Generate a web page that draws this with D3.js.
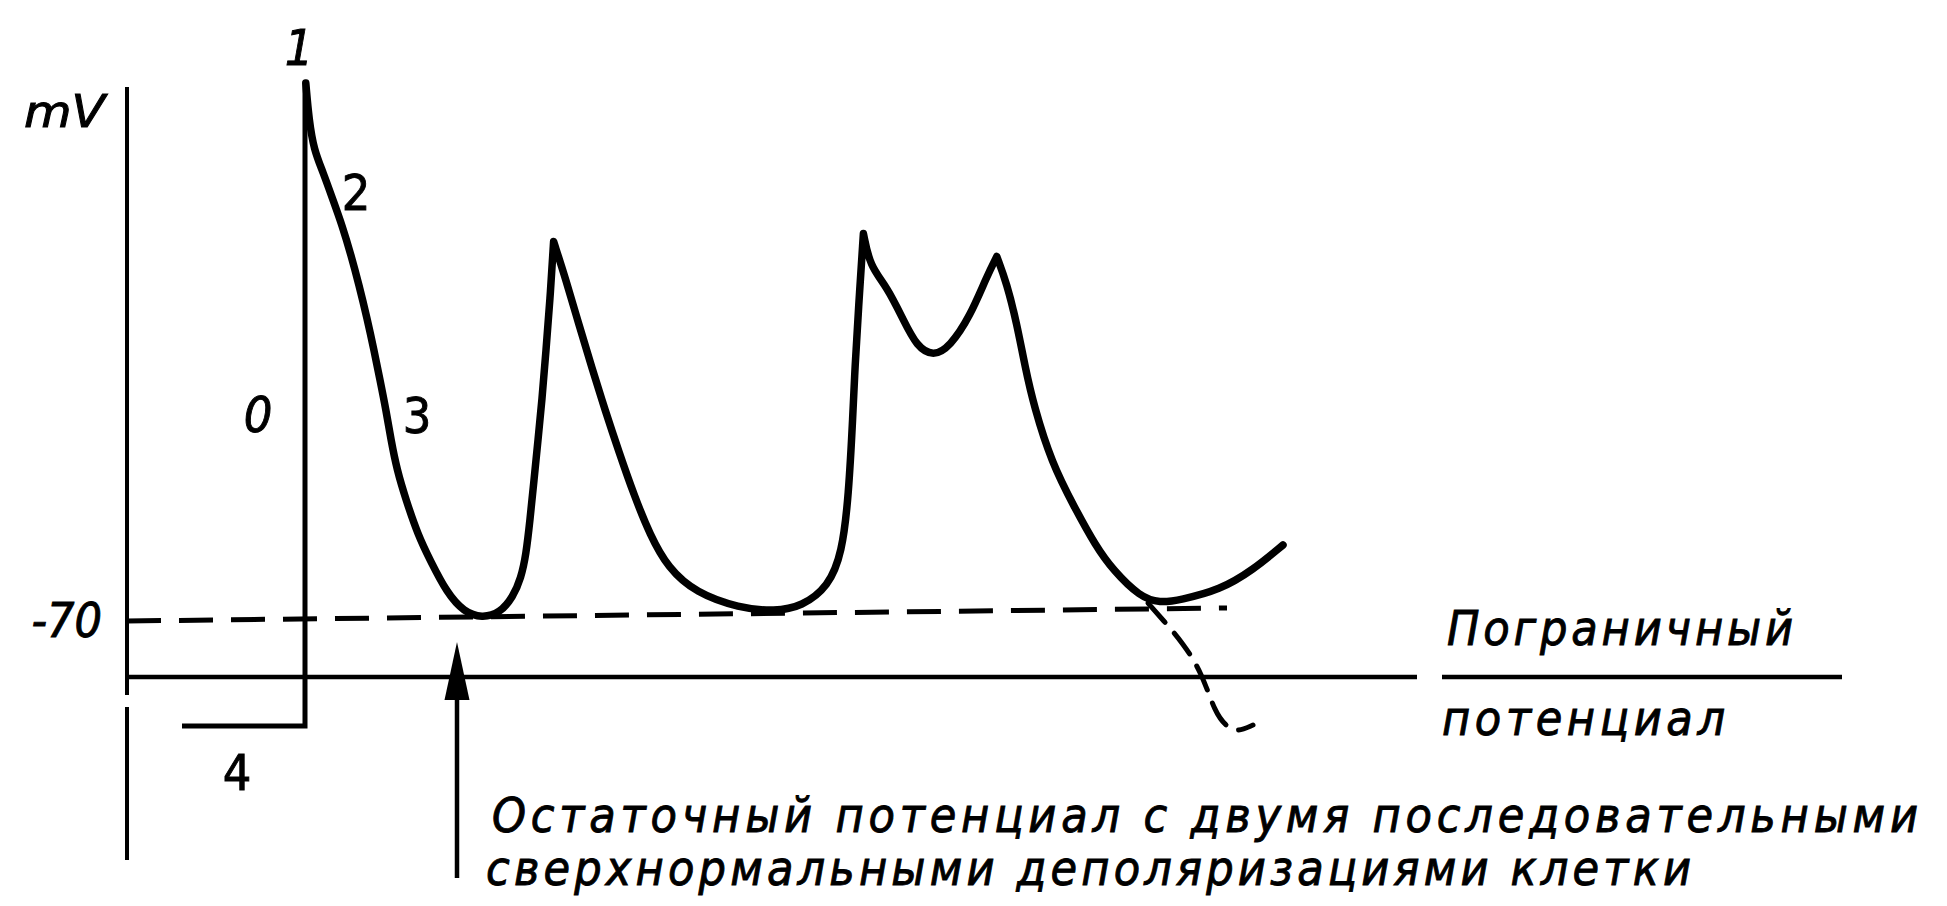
<!DOCTYPE html>
<html>
<head>
<meta charset="utf-8">
<script src="https://cdn.jsdelivr.net/npm/d3@7"></script>
<style>
  html, body { margin: 0; padding: 0; background: #ffffff; }
  svg { display: block; }
  text { font-family: "DejaVu Sans Condensed", "DejaVu Sans", sans-serif; font-stretch: condensed; fill: #000; stroke: #000; stroke-width: 0.9px; }
</style>
</head>
<body>
<svg id="chart" width="1947" height="906"></svg>
<script>
// ---- data (time in ms, membrane potential in mV) ----
const apTime = [
  89.4, 91, 93.5, 98, 103, 107.5, 112, 116, 120, 123.5, 126.5, 129.5, 132, 135, 139.5, 145.5, 151.5, 160, 168.5, 177.5, 186.5,
  193, 197, 199.5, 201.5, 203.5, 205.5, 207.5, 209.5, 211.5, 213.3,
  219.5, 226, 232.5, 239, 246, 253.5, 261.5, 270.5, 284.5, 306, 324,
  337.4, 350.8, 357.5, 360.8, 363, 364, 365.7, 368.2,
  371.5, 379.9, 388.2, 394.9, 403.2, 411.5, 421.5, 429.9, 434.9,
  439.9, 444.9, 449, 453.5, 462.4, 473.5, 484.5, 493, 506.5, 516.5, 526.5, 546.5, 563, 578
];
const apVoltage = [
  37.6, 30.2, 24.2, 19.8, 14.2, 9.2, 3.2, -2.8, -9.4, -15.8, -21.8, -27.8, -33.8, -39.8, -45.8, -52.8, -57.8, -64.4, -68.2, -69.4, -68.4,
  -65.2, -61.4, -56.8, -49.8, -41.8, -33.8, -25.8, -15.8, -5.8, 5.9,
  -1.8, -10.8, -19.4, -27.8, -36.2, -44.8, -52.8, -59.4, -64.4, -67.4, -68.1,
  -67.1, -63.1, -56.4, -45.1, -28.4, -19.1, -7.8, 7.5,
  0.9, -3.1, -9.8, -15.1, -17.1, -15.1, -9.1, -1.1, 2.9,
  -2.5, -10.5, -19.1, -27.1, -38.4, -47.1, -55.1, -59.8, -65.2, -66.4, -65.8, -63.8, -59.8, -54.8
];

// phase 4 baseline and phase 0 upstroke
const stepTime = [27.5, 89, 89];
const stepVoltage = [-91, -91, 37.6];

// dashed -70 mV reference line
const restTime = [0, 550];
const restVoltage = [-70, -67.4];

// dashed falling branch
const fallTime = [510.5, 518, 528, 537.5, 544, 550, 555, 563];
const fallVoltage = [-66.4, -69.8, -74.4, -80.4, -88.4, -91.2, -92.2, -90.8];

// solid threshold line (two pieces)
const thresholdStart = [0, 657.5];
const thresholdEnd = [645, 857.5];
const thresholdVoltage = -81.2;

// vertical axis pieces
const axisTop = [36.8, -87.2];
const axisBottom = [-84.8, -117.8];

const yTickValues = [-70];
const yTickLabels = ["-70"];
const axisUnit = "mV";

const phaseNames = ["0", "1", "2", "3", "4"];
const phaseTime = [65.5, 86, 114.5, 145, 55];
const phaseVoltage = [-32.2, 41.2, 12.2, -32.4, -103.8];

const arrowTime = 165;
const arrowTipVoltage = -74.2;
const arrowBaseVoltage = -85.8;
const arrowEndVoltage = -121.4;

const thresholdLabel = ["Пограничный", "потенциал"];
const noteLines = ["Остаточный потенциал с двумя последовательными", "сверхнормальными деполяризациями клетки"];

// ---- drawing ----
const svg = d3.select("#chart");
const x = d3.scaleLinear().domain([0, 900]).range([127, 1927]);
const y = d3.scaleLinear().domain([-70, 30]).range([621, 121]);

const line = d3.line().x(d => x(d[0])).y(d => y(d[1]));

// vertical axis
svg.append("g").selectAll("line")
  .data(d3.zip(axisTop, axisBottom))
  .join("line")
  .attr("x1", x(0)).attr("x2", x(0))
  .attr("y1", d => y(d[0])).attr("y2", d => y(d[1]))
  .attr("stroke", "#000").attr("stroke-width", 4);

// tick label "-70"
const yAxis = d3.axisLeft(y)
  .tickValues(yTickValues)
  .tickSize(0)
  .tickPadding(25)
  .tickFormat((d, i) => yTickLabels[i]);
const gAxis = svg.append("g").attr("transform", `translate(${x(0)},0)`).call(yAxis);
gAxis.select(".domain").remove();
gAxis.selectAll("text")
  .style("font-family", '"DejaVu Sans Condensed","DejaVu Sans",sans-serif')
  .style("font-size", "48px")
  .style("font-style", "oblique")
  .attr("fill", "#000").attr("stroke", "#000").attr("stroke-width", 0.9);

// unit label
svg.append("text")
  .attr("x", x(-51.5)).attr("y", y(28.8))
  .attr("textLength", 81).attr("lengthAdjust", "spacingAndGlyphs")
  .style("font-size", "44px").style("font-style", "oblique")
  .text(axisUnit);

// dashed -70 line
svg.append("path")
  .datum(d3.zip(restTime, restVoltage))
  .attr("d", line)
  .attr("fill", "none").attr("stroke", "#000")
  .attr("stroke-width", 5).attr("stroke-dasharray", "34,18");

// threshold solid line pieces
svg.append("g").selectAll("line")
  .data(d3.zip(thresholdStart, thresholdEnd))
  .join("line")
  .attr("x1", d => x(d[0])).attr("x2", d => x(d[1]))
  .attr("y1", y(thresholdVoltage)).attr("y2", y(thresholdVoltage))
  .attr("stroke", "#000").attr("stroke-width", 4.5);

// phase 4 + phase 0
svg.append("path")
  .datum(d3.zip(stepTime, stepVoltage))
  .attr("d", line)
  .attr("fill", "none").attr("stroke", "#000")
  .attr("stroke-width", 5).attr("stroke-linejoin", "miter");

// main action potential trace: smoothed B-spline, with sharp cusps kept at the peaks
const apPoints = d3.zip(apTime, apVoltage);
const apKnots = [];
apPoints.forEach((p, i) => {
  const isPeak = i > 0 && i < apPoints.length - 1 && p[1] > apPoints[i - 1][1] && p[1] > apPoints[i + 1][1];
  apKnots.push(p);
  if (isPeak) { apKnots.push(p); apKnots.push(p); }
});
svg.append("path")
  .datum(apKnots)
  .attr("d", d3.line().x(d => x(d[0])).y(d => y(d[1])).curve(d3.curveBasis))
  .attr("fill", "none").attr("stroke", "#000")
  .attr("stroke-width", 7.5).attr("stroke-linejoin", "round").attr("stroke-linecap", "round");

// dashed falling branch
svg.append("path")
  .datum(d3.zip(fallTime, fallVoltage))
  .attr("d", d3.line().x(d => x(d[0])).y(d => y(d[1])).curve(d3.curveBasis))
  .attr("fill", "none").attr("stroke", "#000")
  .attr("stroke-width", 5).attr("stroke-dasharray", "26,14").attr("stroke-linecap", "round");

// arrow
svg.append("line")
  .attr("x1", x(arrowTime)).attr("x2", x(arrowTime))
  .attr("y1", y(arrowBaseVoltage) - 4).attr("y2", y(arrowEndVoltage))
  .attr("stroke", "#000").attr("stroke-width", 4.5);
svg.append("path")
  .attr("d", d3.line()([
    [x(arrowTime), y(arrowTipVoltage)],
    [x(arrowTime) - 12.5, y(arrowBaseVoltage)],
    [x(arrowTime) + 12.5, y(arrowBaseVoltage)]
  ]) + "Z")
  .attr("fill", "#000");

// phase labels
svg.append("g").selectAll("text")
  .data(d3.zip(phaseNames, phaseTime, phaseVoltage))
  .join("text")
  .attr("x", d => x(d[1])).attr("y", d => y(d[2]))
  .attr("text-anchor", "middle")
  .style("font-size", "50px")
  .style("font-style", d => (d[0] === "0" || d[0] === "1") ? "oblique" : "normal")
  .text(d => d[0]);

// threshold label
svg.append("text")
  .attr("x", x(660)).attr("y", y(-74.8))
  .attr("textLength", 346).attr("lengthAdjust", "spacing")
  .style("font-size", "48px").style("font-style", "oblique")
  .text(thresholdLabel[0]);
svg.append("text")
  .attr("x", x(657.5)).attr("y", y(-92.8))
  .attr("textLength", 283).attr("lengthAdjust", "spacing")
  .style("font-size", "48px").style("font-style", "oblique")
  .text(thresholdLabel[1]);

// note
svg.append("text")
  .attr("x", x(182.5)).attr("y", y(-112.2))
  .attr("textLength", 1426).attr("lengthAdjust", "spacing")
  .style("font-size", "48px").style("font-style", "oblique")
  .text(noteLines[0]);
svg.append("text")
  .attr("x", x(179.5)).attr("y", y(-122.8))
  .attr("textLength", 1205).attr("lengthAdjust", "spacing")
  .style("font-size", "48px").style("font-style", "oblique")
  .text(noteLines[1]);
</script>
</body>
</html>
